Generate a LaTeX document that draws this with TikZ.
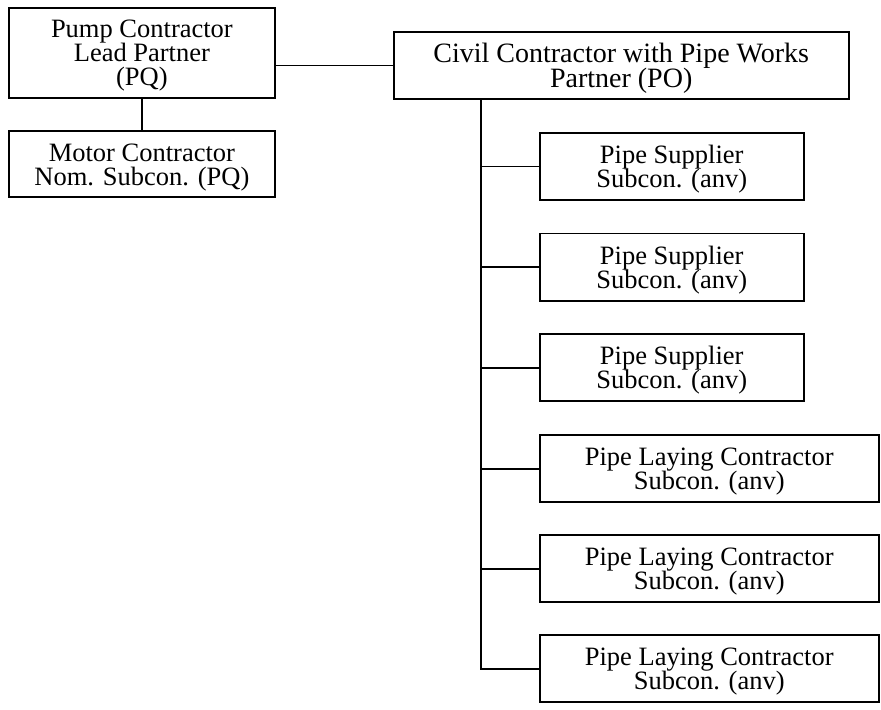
\documentclass[tikz,border=0pt]{standalone}
\usepackage{fontspec}
\setmainfont{Liberation Serif}
\usetikzlibrary{positioning}
\newcommand{\boxfont}{\fontsize{13.25}{12}\selectfont\lineskiplimit=-10pt\relax}
\newcommand{\civilfont}{\fontsize{14}{12.5}\selectfont\lineskiplimit=-10pt\relax}

\begin{document}
\begin{tikzpicture}[
    node distance=15.8pt,
    box/.style={rectangle, draw=black, line width=0.9pt, inner sep=0pt, align=center, text depth=0pt, font=\boxfont},
    topbox/.style={box, minimum width=133pt},
    subbox/.style={box, minimum width=132pt, minimum height=33.6pt},
    laybox/.style={box, minimum width=169.5pt, minimum height=33.6pt},
    link/.style={line width=0.9pt},
  ]
    \useasboundingbox (0,0) rectangle (440.5pt,-354.5pt);
    \node[topbox, minimum height=45pt, anchor=north west] (pump) at (4pt,-3.5pt) {Pump Contractor\\Lead Partner\\(PQ)};
    \node[topbox, minimum height=33pt, below=of pump] (motor) {Motor Contractor\\Nom. Subcon. (PQ)};
    \node[box, minimum width=227.5pt, minimum height=33.6pt, right=58.5pt of pump, yshift=-6.25pt, font=\civilfont] (civil) {Civil Contractor with Pipe Works\\Partner (PO)};
    \node[subbox, below right=16pt and 73pt of civil.south west] (sup1) {Pipe Supplier\\Subcon. (anv)};
    \node[subbox, below=of sup1] (sup2) {Pipe Supplier\\Subcon. (anv)};
    \node[subbox, below=of sup2] (sup3) {Pipe Supplier\\Subcon. (anv)};
    \node[laybox, below right=16pt and 0pt of sup3.south west] (lay1) {Pipe Laying Contractor\\Subcon. (anv)};
    \node[laybox, below=15.5pt of lay1] (lay2) {Pipe Laying Contractor\\Subcon. (anv)};
    \node[laybox, below=15.5pt of lay2] (lay3) {Pipe Laying Contractor\\Subcon. (anv)};
    \coordinate (trunk) at ([xshift=44pt]civil.south west);
    \draw[link] (pump.east |- civil.west) -- (civil.west);
    \draw[link] (pump) -- (motor);
    \draw[link] (trunk) |- (lay3.west);
    \draw[link] (trunk |- sup1.west) -- (sup1.west);
    \draw[link] (trunk |- sup2.west) -- (sup2.west);
    \draw[link] (trunk |- sup3.west) -- (sup3.west);
    \draw[link] (trunk |- lay1.west) -- (lay1.west);
    \draw[link] (trunk |- lay2.west) -- (lay2.west);
  \end{tikzpicture}
\end{document}
